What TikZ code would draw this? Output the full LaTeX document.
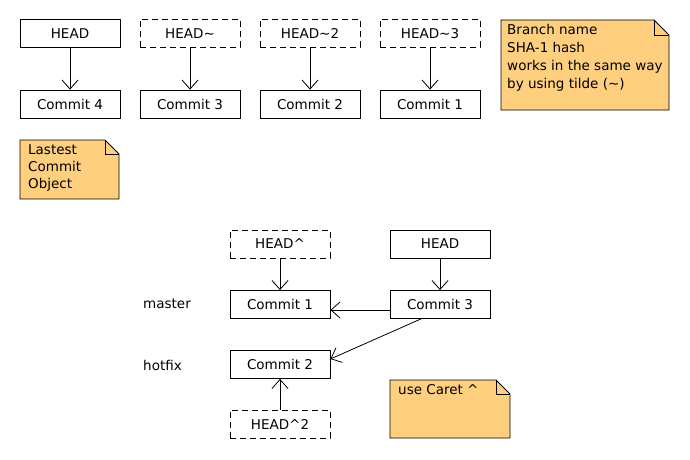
\documentclass[tikz,border=0pt]{standalone}
\usepackage{fontspec}
\setmainfont{DejaVu Sans}
\usetikzlibrary{arrows.meta}
\definecolor{notefill}{RGB}{255,207,128}
\tikzset{
  box/.style={draw, line width=0.8pt, minimum width=100pt, minimum height=28pt, inner sep=0pt, font=\fontsize{13.5}{16}\selectfont},
  dbox/.style={box, dash pattern=on 6pt off 4pt},
  arr/.style={line width=0.8pt, -{Straight Barb[length=9pt,width=16pt,line width=0.8pt]}},
  notebox/.style={draw, line width=0.8pt, fill=notefill},
  notetext/.style={anchor=north west, align=left, inner sep=0pt, font=\fontsize{13.5}{18}\selectfont},
  lbl/.style={anchor=west, inner sep=0pt, font=\fontsize{13.5}{16}\selectfont}
}
\begin{document}
\begin{tikzpicture}[x=1pt,y=-1pt]
\useasboundingbox (0,0) rectangle (690,460);
% top row
\node[box]  (h0) at (70,33.5) {HEAD};
\node[dbox] (h1) at (190,33.5) {HEAD\char`\~};
\node[dbox] (h2) at (310,33.5) {HEAD\char`\~2};
\node[dbox] (h3) at (430,33.5) {HEAD\char`\~3};
\node[box]  (c4) at (70,104) {Commit 4};
\node[box]  (c3t) at (190,104) {Commit 3};
\node[box]  (c2t) at (310,104) {Commit 2};
\node[box]  (c1t) at (430,104) {Commit 1};
\draw[arr] (h0) -- (c4);
\draw[arr] (h1) -- (c3t);
\draw[arr] (h2) -- (c2t);
\draw[arr] (h3) -- (c1t);
% note 1
\draw[notebox] (501,20) -- (654,20) -- (669,35) -- (669,110) -- (501,110) -- cycle;
\draw[line width=0.8pt] (654,20) -- (654,35) -- (669,35);
\node[notetext] (n1) at (507,24) {Branch name\\SHA-1 hash\\works in the same way\\by using tilde (\char`\~)};
% note 2
\draw[notebox] (20,140) -- (105,140) -- (119,154) -- (119,199) -- (20,199) -- cycle;
\draw[line width=0.8pt] (105,140) -- (105,154) -- (119,154);
\node[notetext, font=\fontsize{13.5}{17}\selectfont] (n2) at (28,144) {Lastest\\Commit\\Object};
% bottom
\node[dbox] (hc) at (280,244) {HEAD\char`\^};
\node[box]  (hb) at (440,244) {HEAD};
\node[box]  (b1) at (280,304.5) {Commit 1};
\node[box]  (b3) at (440,304.5) {Commit 3};
\node[box]  (b2) at (280,364.5) {Commit 2};
\node[dbox] (hc2) at (280,424) {HEAD\char`\^2};
\node[lbl] (m) at (143,304) {master};
\node[lbl] (hf) at (143,365) {hotfix};
\draw[arr] (hc) -- (b1);
\draw[arr] (hb) -- (b3);
\draw[arr] ([yshift=-5.5pt]b3.west) -- ([yshift=-5.5pt]b1.east);
\draw[arr] ([xshift=-19pt]b3.south) -- ([yshift=5.5pt]b2.east);
\draw[arr] (hc2) -- (b2);
% note 3
\draw[notebox] (390,380) -- (496,380) -- (510,394) -- (510,438) -- (390,438) -- cycle;
\draw[line width=0.8pt] (496,380) -- (496,394) -- (510,394);
\node[notetext] (n3) at (398,384) {use Caret \char`\^};
\end{tikzpicture}
\end{document}
